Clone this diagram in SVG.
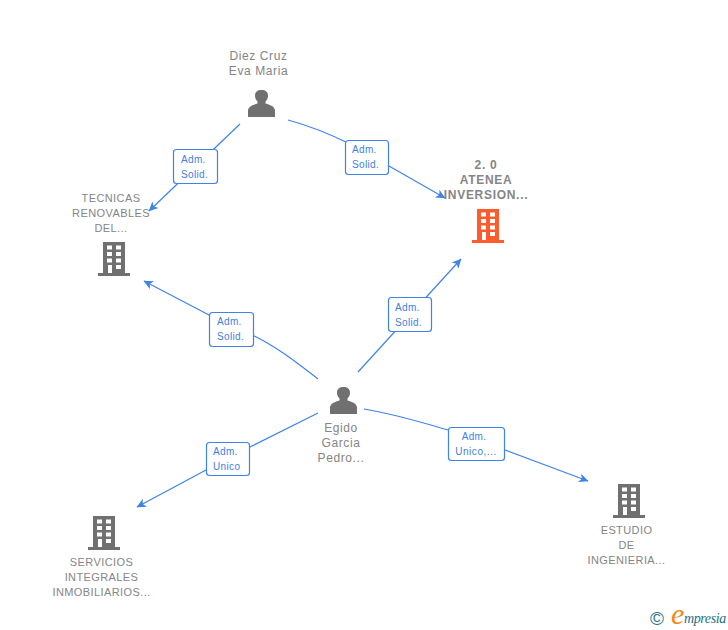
<svg xmlns="http://www.w3.org/2000/svg" width="728" height="630" viewBox="0 0 728 630">
<style>
.n{font:12px "Liberation Sans",Arial,sans-serif;fill:#858585;text-anchor:middle;letter-spacing:.6px}
.u{font-size:11px;letter-spacing:.4px}
.b{font-size:12px;font-weight:bold;letter-spacing:.7px}
.l{font:10px "Liberation Sans",Arial,sans-serif;fill:#3f80e0;letter-spacing:.35px}
.c{fill:none;stroke:#3f83e4;stroke-width:1.2}
.box{fill:#fff;stroke:#3f83e4;stroke-width:1.2}
</style>
<defs>
<marker id="a" markerUnits="userSpaceOnUse" markerWidth="11" markerHeight="12" refX="9" refY="6" orient="auto" viewBox="0 0 11 12"><path d="M0 1.500L9.500 6L0 10.500L2.500 6Z" fill="#3f83e4"/></marker>
<g id="bld"><path fill-rule="evenodd" d="M5 0H27V31H32V34H0V31H5ZM9 3.500V7.500H14V3.500ZM18 3.500V7.500H23V3.500ZM9 10V14H14V10ZM18 10V14H23V10ZM9 16.500V20.500H14V16.500ZM18 16.500V20.500H23V16.500ZM10 23V31H14V23ZM18 23V27H23V23Z"/></g>
<g id="per"><path d="M0 27V20C1 16 5 15 9.500 13.500V11.500C7.500 9.500 7 7.500 7 5.500C7 2 9.500 0 13.500 0C17.500 0 20 2 20 5.500C20 7.500 19.500 9.500 17.500 11.500V13.500C22 15 26 16 27 20V27Z"/></g>
</defs>
<rect width="728" height="630" fill="#fff"/>
<g id="connectors">
<path class="c" d="M240 124L149 211" marker-end="url(#a)"/>
<path class="c" d="M288 120C310 126 330 134 350 144L389 166L445 198" marker-end="url(#a)"/>
<path class="c" d="M318 379C300 365 275 345 250 334L209 315L144 281" marker-end="url(#a)"/>
<path class="c" d="M358 372L461 259" marker-end="url(#a)"/>
<path class="c" d="M318 413L250 447L206 470L137 507" marker-end="url(#a)"/>
<path class="c" d="M364 409C395 414 420 422 448 430L505 450L588 481" marker-end="url(#a)"/>
</g>
<g id="label-1"><rect class="box" x="173.500" y="149.500" width="44" height="34" rx="3"/><text class="l" x="181" y="163">Adm.</text><text class="l" x="181" y="178">Solid.</text></g>
<g id="label-2"><rect class="box" x="345.500" y="140.500" width="43" height="34" rx="3"/><text class="l" x="352" y="153">Adm.</text><text class="l" x="352" y="168">Solid.</text></g>
<g id="label-3"><rect class="box" x="209.500" y="312.500" width="44" height="34" rx="3"/><text class="l" x="217" y="325">Adm.</text><text class="l" x="217" y="340">Solid.</text></g>
<g id="label-4"><rect class="box" x="388.500" y="297.500" width="43" height="34" rx="3"/><text class="l" x="395" y="311">Adm.</text><text class="l" x="395" y="326">Solid.</text></g>
<g id="label-5"><rect class="box" x="206.500" y="442.500" width="43" height="33" rx="3"/><text class="l" x="213" y="455">Adm.</text><text class="l" x="213" y="470">Unico</text></g>
<g id="label-6"><rect class="box" x="448.500" y="427.500" width="56" height="33" rx="3"/><text class="l" x="474" y="440" text-anchor="middle">Adm.</text><text class="l" x="476" y="455" text-anchor="middle" style="letter-spacing:.55px">Unico,...</text></g>
<g id="node-diez"><text class="n" x="258.500" y="60">Diez Cruz</text><text class="n" x="258.500" y="75">Eva Maria</text><use href="#per" x="248" y="90" fill="#707070"/></g>
<g id="node-atenea"><text class="n b" x="486" y="169">2. 0</text><text class="n b" x="486" y="184">ATENEA</text><text class="n b" x="486" y="199">INVERSION...</text><use href="#bld" x="472" y="209" fill="#ff5c2e"/></g>
<g id="node-tecnicas"><text class="n u" x="111" y="202">TECNICAS</text><text class="n u" x="111" y="217">RENOVABLES</text><text class="n u" x="111" y="232">DEL...</text><use href="#bld" x="98" y="242" fill="#707070"/></g>
<g id="node-egido"><text class="n" x="341" y="432">Egido</text><text class="n" x="341" y="447">Garcia</text><text class="n" x="341" y="462">Pedro...</text><use href="#per" x="330" y="387" fill="#707070"/></g>
<g id="node-servicios"><use href="#bld" x="88" y="516" fill="#707070"/><text class="n u" x="101.500" y="566">SERVICIOS</text><text class="n u" x="101.500" y="581">INTEGRALES</text><text class="n u" x="101.500" y="596">INMOBILIARIOS...</text></g>
<g id="node-estudio"><use href="#bld" x="613" y="484" fill="#707070"/><text class="n u" x="626.500" y="534">ESTUDIO</text><text class="n u" x="626.500" y="549">DE</text><text class="n u" x="626.500" y="564">INGENIERIA...</text></g>
<g id="logo"><text x="650" y="625" font-family="'Liberation Sans',sans-serif" font-size="19" fill="#2f7385">©</text><text x="671" y="624" font-family="'Liberation Serif',serif" font-style="italic" font-size="30" fill="#f08a1d">e</text><text x="684" y="623" font-family="'Liberation Serif',serif" font-style="italic" font-size="14" letter-spacing="-.4" fill="#1f6f80">mpresia</text></g>
</svg>
